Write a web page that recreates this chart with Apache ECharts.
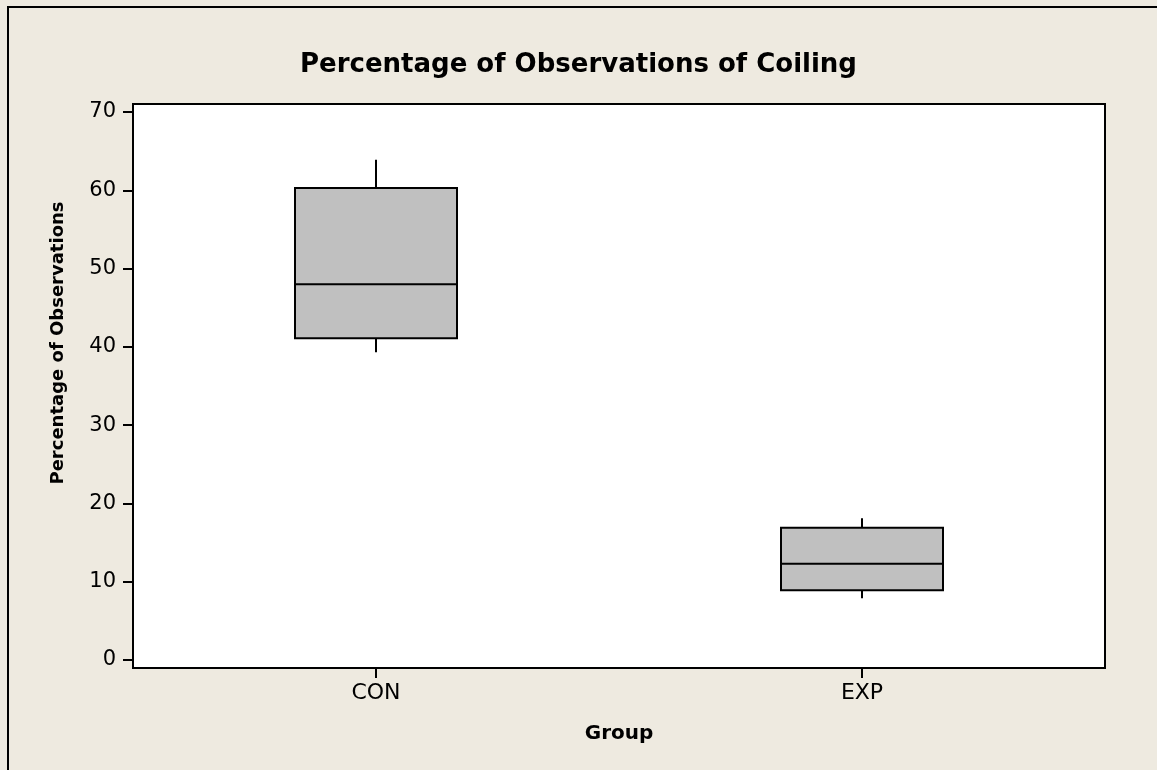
<!DOCTYPE html>
<html>
<head>
<meta charset="utf-8">
<script src="https://cdn.jsdelivr.net/npm/echarts@6/dist/echarts.min.js"></script>
<style>
  html, body { margin: 0; padding: 0; background: #EEEAE0; }
  #main { width: 1157px; height: 770px; }
</style>
</head>
<body>
<div id="main"></div>
<script>
// groups on the x axis
const groups = ['CON', 'EXP'];
// box summaries: [whisker low, Q1, median, Q3, whisker high]
const whiskerLow = [39.3, 7.9];
const q1 = [41.1, 8.9];
const median = [48.0, 12.3];
const q3 = [60.3, 16.9];
const whiskerHigh = [63.9, 18.1];
// y axis ticks
const yMin = 0;
const yMax = 70;
const yStep = 10;

const chart = echarts.init(document.getElementById('main'), null, { renderer: 'canvas' });

const boxData = groups.map((g, i) => [i, whiskerLow[i], q1[i], median[i], q3[i], whiskerHigh[i]]);

function renderBox(params, api) {
  const x = api.value(0);
  const low = api.coord([x, api.value(1)]);
  const bq1 = api.coord([x, api.value(2)]);
  const med = api.coord([x, api.value(3)]);
  const bq3 = api.coord([x, api.value(4)]);
  const high = api.coord([x, api.value(5)]);
  const w = api.size([1, 0])[0] / 3;
  const cx = low[0];
  const line = { stroke: '#000', lineWidth: 2 };
  return {
    type: 'group',
    children: [
      { type: 'line', shape: { x1: cx, y1: bq3[1], x2: cx, y2: high[1] }, style: line },
      { type: 'line', shape: { x1: cx, y1: bq1[1], x2: cx, y2: low[1] }, style: line },
      {
        type: 'rect',
        shape: { x: cx - w / 2, y: bq3[1], width: w, height: bq1[1] - bq3[1] },
        style: { fill: '#C0C0C0', stroke: '#000', lineWidth: 2 }
      },
      { type: 'line', shape: { x1: cx - w / 2, y1: med[1], x2: cx + w / 2, y2: med[1] }, style: line }
    ]
  };
}

const option = {
  backgroundColor: '#EEEAE0',
  animation: false,
  title: {
    text: 'Percentage of Observations of Coiling',
    left: 'center',
    top: 47,
    textStyle: {
      fontFamily: 'DejaVu Sans',
      fontWeight: 'bold',
      fontSize: 26,
      color: '#000'
    }
  },
  graphic: [
    // outer frame
    {
      type: 'rect',
      shape: { x: 8, y: 7, width: 1160, height: 780 },
      style: { fill: 'none', stroke: '#000', lineWidth: 2 },
      silent: true
    }
  ],
  grid: [
    // plot frame
    { left: 133, right: 52, top: 104, bottom: 102, show: true, backgroundColor: '#fff', borderColor: '#000', borderWidth: 2 },
    // data area, 0..70
    { left: 133, right: 52, top: 112, bottom: 110 }
  ],
  xAxis: [
    {
      gridIndex: 0,
      type: 'category',
      data: groups,
      boundaryGap: true,
      name: 'Group',
      nameLocation: 'middle',
      nameGap: 56,
      nameTextStyle: { fontFamily: 'DejaVu Sans', fontWeight: 'bold', fontSize: 20, color: '#000' },
      axisLine: { show: false },
      axisTick: { show: true, alignWithLabel: true, length: 10, lineStyle: { color: '#000', width: 2 } },
      axisLabel: { fontFamily: 'DejaVu Sans', fontSize: 22, color: '#000', margin: 14 },
      splitLine: { show: false }
    },
    {
      gridIndex: 1,
      type: 'category',
      data: groups,
      boundaryGap: true,
      show: false
    }
  ],
  yAxis: [
    { gridIndex: 0, type: 'value', show: false, min: 0, max: 1 },
    {
      gridIndex: 1,
      type: 'value',
      min: yMin,
      max: yMax,
      interval: yStep,
      name: 'Percentage of Observations',
      nameLocation: 'middle',
      nameGap: 66,
      nameRotate: 90,
      nameTextStyle: { fontFamily: 'DejaVu Sans', fontWeight: 'bold', fontSize: 18, color: '#000', padding: [0, 0, 0, 86] },
      axisLine: { show: false },
      axisTick: { show: true, length: 10, lineStyle: { color: '#000', width: 2 } },
      axisLabel: { fontFamily: 'DejaVu Sans', fontSize: 21, color: '#000', margin: 17 },
      splitLine: { show: false }
    }
  ],
  series: [
    {
      type: 'custom',
      xAxisIndex: 1,
      yAxisIndex: 1,
      renderItem: renderBox,
      encode: { x: 0, y: [1, 2, 3, 4, 5] },
      data: boxData,
      z: 3
    }
  ]
};

chart.setOption(option);
</script>
</body>
</html>
